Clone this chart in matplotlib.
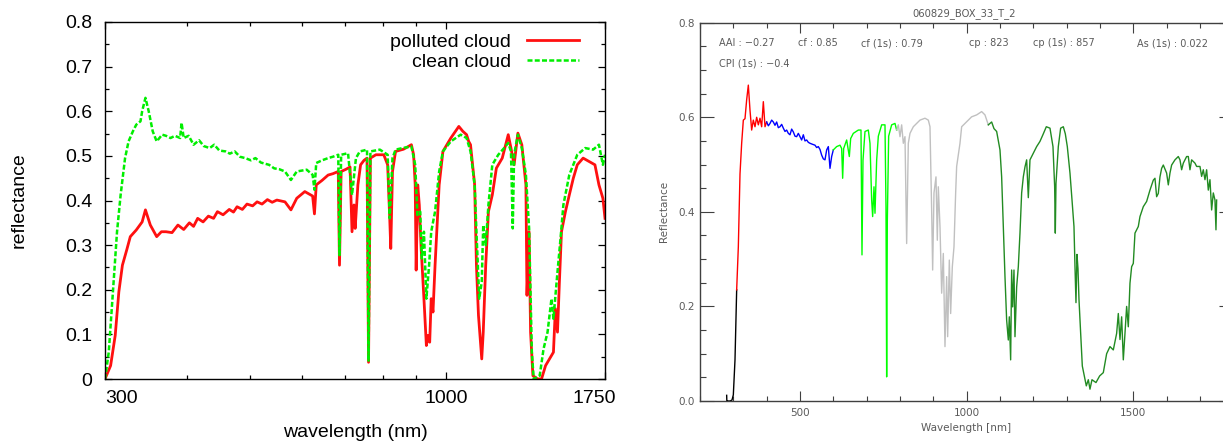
import matplotlib
matplotlib.use('Agg')
import matplotlib.pyplot as plt
from matplotlib.ticker import FixedLocator, NullFormatter, MultipleLocator
import matplotlib.transforms as mtransforms

# ---------------- Left panel data (wavelength nm, reflectance) ----------------
polluted_w = [300, 306, 311, 315, 319, 324, 328, 335, 342, 346, 352, 360, 366, 372, 380, 388, 396, 404, 410,
              416, 424, 432, 440, 446, 455, 465, 472, 478, 487, 495, 505, 513, 522, 532, 541, 550, 566, 578,
              590, 607, 624, 628, 632, 645, 659, 670, 683, 686, 690, 702, 712, 717, 722, 725, 732, 739, 748,
              756, 760, 765, 780, 802, 813, 819, 822, 827, 836, 860, 884, 891, 896, 899, 904, 909, 915, 924,
              932, 937, 943, 948, 954, 961, 975, 988, 1016, 1045, 1060, 1074, 1082, 1089, 1105, 1112, 1120,
              1128, 1133, 1139, 1149, 1160, 1176, 1193, 1218, 1244, 1256, 1270, 1287, 1305, 1324, 1329,
              1339, 1346, 1357, 1380, 1399, 1419, 1439, 1459, 1469, 1480, 1490, 1501, 1522, 1543, 1565,
              1587, 1620, 1654, 1689, 1713, 1737, 1750]
polluted_r = [0.0, 0.03, 0.0975, 0.195, 0.255, 0.29, 0.319, 0.334, 0.352, 0.379, 0.345, 0.319, 0.33, 0.33,
              0.328, 0.345, 0.335, 0.35, 0.342, 0.36, 0.352, 0.365, 0.36, 0.375, 0.368, 0.38, 0.374, 0.386,
              0.38, 0.392, 0.388, 0.397, 0.392, 0.402, 0.396, 0.401, 0.397, 0.379, 0.405, 0.42, 0.41, 0.37,
              0.435, 0.445, 0.457, 0.46, 0.465, 0.255, 0.465, 0.47, 0.475, 0.33, 0.39, 0.3375, 0.435, 0.48,
              0.49, 0.495, 0.0375, 0.495, 0.5025, 0.5025, 0.48, 0.36, 0.2925, 0.465, 0.51, 0.515, 0.525,
              0.5025, 0.435, 0.244, 0.435, 0.39, 0.2925, 0.18, 0.075, 0.0975, 0.0825, 0.18, 0.15, 0.255,
              0.435, 0.51, 0.54, 0.566, 0.555, 0.5475, 0.5325, 0.525, 0.435, 0.255, 0.1425, 0.0825, 0.045,
              0.105, 0.255, 0.375, 0.4125, 0.4725, 0.495, 0.5475, 0.5175, 0.48, 0.551, 0.525, 0.435, 0.1875,
              0.33, 0.105, 0.0075, 0.0, 0.0, 0.03, 0.045, 0.06, 0.1575, 0.105, 0.2175, 0.33, 0.375, 0.4125,
              0.45, 0.48, 0.495, 0.4875, 0.48, 0.435, 0.405, 0.36]

clean_w = [300, 304, 308, 313, 317, 322, 326, 331, 335, 340, 342, 346, 350, 355, 360, 367, 372, 378, 384,
           391, 393, 396, 403, 410, 418, 425, 434, 441, 449, 459, 466, 474, 483, 492, 502, 510, 520, 535,
           545, 555, 566, 578, 590, 611, 624, 628, 632, 645, 659, 670, 683, 686, 690, 707, 717, 727, 737,
           747, 756, 760, 765, 791, 813, 819, 827, 836, 860, 884, 896, 903, 912, 917, 924, 932, 941, 948,
           961, 975, 988, 1016, 1052, 1074, 1089, 1105, 1112, 1123, 1133, 1139, 1149, 1160, 1176, 1201,
           1226, 1244, 1256, 1264, 1270, 1287, 1305, 1324, 1339, 1352, 1361, 1390, 1409, 1429, 1449, 1459,
           1480, 1496, 1511, 1543, 1587, 1632, 1678, 1713, 1737, 1750]
clean_r = [0.0, 0.06, 0.18, 0.33, 0.4125, 0.495, 0.5325, 0.555, 0.57, 0.5775, 0.6, 0.63, 0.6, 0.555, 0.5325,
           0.5475, 0.545, 0.54, 0.545, 0.54, 0.574, 0.54, 0.545, 0.525, 0.535, 0.522, 0.5175, 0.525, 0.512,
           0.51, 0.505, 0.51, 0.498, 0.495, 0.49, 0.495, 0.485, 0.48, 0.472, 0.47, 0.465, 0.446, 0.465,
           0.469, 0.4575, 0.424, 0.484, 0.49, 0.495, 0.498, 0.5025, 0.2775, 0.5025, 0.506, 0.4125, 0.495,
           0.51, 0.512, 0.514, 0.041, 0.51, 0.514, 0.5025, 0.36, 0.495, 0.514, 0.518, 0.521, 0.48, 0.3675,
           0.375, 0.27, 0.33, 0.18, 0.255, 0.33, 0.375, 0.465, 0.51, 0.5325, 0.5475, 0.54, 0.51, 0.435, 0.33,
           0.18, 0.2175, 0.345, 0.3, 0.39, 0.48, 0.5025, 0.5175, 0.529, 0.51, 0.3375, 0.5025, 0.5475, 0.5175,
           0.4575, 0.3375, 0.06, 0.0, 0.0075, 0.0675, 0.105, 0.18, 0.135, 0.24, 0.315, 0.39, 0.4575, 0.5025,
           0.5175, 0.514, 0.525, 0.48, 0.5025]

left_xmajor = [300, 1000, 1750]
left_xmajor_labels = ['300', '1000', '1750']
left_xminor = [400, 500, 600, 700, 800, 900]
left_yticks = [0, 0.1, 0.2, 0.3, 0.4, 0.5, 0.6, 0.7, 0.8]
left_ylabels = ['0', '0.1', '0.2', '0.3', '0.4', '0.5', '0.6', '0.7', '0.8']

# ---------------- Right panel data (segments) ----------------
black_w = [280, 280.5, 282, 290, 296, 300, 305, 310]
black_r = [0.012, 0.0, 0.0, 0.0, 0.002, 0.013, 0.087, 0.235]

red_w = [310, 315, 320, 325, 330, 335, 340, 345, 350, 355, 360, 365, 370, 375, 380, 385, 390, 395, 400]
red_r = [0.235, 0.326, 0.48, 0.545, 0.594, 0.597, 0.637, 0.668, 0.615, 0.573, 0.594, 0.58, 0.60, 0.584,
         0.598, 0.58, 0.633, 0.58, 0.59]

blue_w = [400, 405, 410, 415, 420, 425, 430, 435, 440, 445, 450, 455, 460, 465, 470, 475, 480, 485, 490, 495,
          500, 505, 510, 515, 520, 525, 530, 537, 545, 550, 555, 560, 565, 570, 575, 580, 585, 590, 595, 600]
blue_r = [0.59, 0.582, 0.587, 0.594, 0.59, 0.583, 0.59, 0.578, 0.58, 0.585, 0.577, 0.57, 0.573, 0.566, 0.563,
          0.575, 0.569, 0.56, 0.559, 0.566, 0.559, 0.552, 0.563, 0.55, 0.552, 0.547, 0.545, 0.543, 0.541,
          0.536, 0.538, 0.532, 0.52, 0.512, 0.51, 0.531, 0.538, 0.492, 0.517, 0.531]

lime_w = [600, 610, 620, 625, 628, 631, 640, 648, 652, 660, 675, 683, 686, 689, 695, 705, 710, 715, 718, 722,
          725, 730, 735, 745, 755, 758, 760, 762, 766, 775, 785, 790]
lime_r = [0.531, 0.538, 0.541, 0.534, 0.471, 0.534, 0.552, 0.517, 0.555, 0.566, 0.573, 0.573, 0.309, 0.509,
          0.57, 0.573, 0.545, 0.425, 0.39, 0.453, 0.397, 0.509, 0.56, 0.584, 0.584, 0.411, 0.051, 0.38, 0.56,
          0.584, 0.587, 0.573]

gray_w = [790, 795, 800, 805, 810, 815, 820, 825, 830, 840, 850, 860, 875, 885, 890, 895, 898, 902, 908, 912,
          915, 920, 925, 930, 935, 940, 943, 948, 952, 957, 962, 967, 970, 980, 985, 995, 1005, 1015, 1030,
          1045, 1055, 1065]
gray_r = [0.573, 0.584, 0.559, 0.584, 0.545, 0.559, 0.333, 0.545, 0.566, 0.58, 0.587, 0.594, 0.598, 0.594,
          0.58, 0.404, 0.277, 0.44, 0.474, 0.34, 0.453, 0.369, 0.228, 0.312, 0.115, 0.263, 0.136, 0.298,
          0.185, 0.284, 0.326, 0.44, 0.496, 0.545, 0.58, 0.587, 0.594, 0.601, 0.605, 0.612, 0.605, 0.584]

dgreen_w = [1065, 1075, 1082, 1090, 1100, 1105, 1110, 1115, 1120, 1125, 1128, 1132, 1135, 1138, 1142, 1145,
            1150, 1155, 1160, 1165, 1170, 1175, 1180, 1185, 1190, 1200, 1210, 1220, 1230, 1239, 1250, 1259,
            1264, 1266, 1268, 1275, 1282, 1290, 1296, 1302, 1310, 1316, 1322, 1325, 1328, 1331, 1334, 1337,
            1342, 1347, 1353, 1359, 1365, 1370, 1376, 1388, 1399, 1410, 1420, 1430, 1440, 1450, 1455, 1460,
            1465, 1470, 1475, 1480, 1485, 1490, 1495, 1500, 1505, 1510, 1515, 1520, 1530, 1540, 1550, 1560,
            1565, 1570, 1575, 1580, 1585, 1590, 1600, 1605, 1610, 1615, 1625, 1635, 1640, 1645, 1650, 1660,
            1665, 1670, 1675, 1685, 1690, 1700, 1705, 1710, 1715, 1720, 1725, 1730, 1735, 1740, 1745, 1748,
            1750]
dgreen_r = [0.584, 0.59, 0.576, 0.57, 0.531, 0.474, 0.369, 0.263, 0.171, 0.129, 0.178, 0.087, 0.277, 0.199,
            0.277, 0.136, 0.241, 0.284, 0.355, 0.44, 0.474, 0.495, 0.51, 0.43, 0.51, 0.524, 0.538, 0.549,
            0.565, 0.58, 0.577, 0.538, 0.454, 0.355, 0.46, 0.538, 0.577, 0.58, 0.565, 0.538, 0.482, 0.426,
            0.369, 0.285, 0.208, 0.31, 0.28, 0.215, 0.144, 0.074, 0.053, 0.032, 0.045, 0.025, 0.045, 0.039,
            0.053, 0.06, 0.1, 0.115, 0.108, 0.143, 0.185, 0.13, 0.178, 0.087, 0.143, 0.2, 0.157, 0.249, 0.284,
            0.291, 0.355, 0.362, 0.369, 0.39, 0.411, 0.422, 0.446, 0.467, 0.471, 0.432, 0.439, 0.474, 0.492,
            0.499, 0.482, 0.457, 0.482, 0.499, 0.51, 0.517, 0.51, 0.489, 0.503, 0.517, 0.517, 0.489, 0.51,
            0.503, 0.496, 0.496, 0.475, 0.489, 0.468, 0.489, 0.446, 0.468, 0.404, 0.44, 0.425, 0.362, 0.425]

right_title = '060829_BOX_33_T_2'
info_line1 = ['AAI : \u22120.27', 'cf : 0.85', 'cf (1s) : 0.79', 'cp : 823', 'cp (1s) : 857', 'As (1s) : 0.022']
info_line2 = ['CPI (1s) : \u22120.4']

# ---------------- Figure ----------------
W, H = 1223, 442
fig = plt.figure(figsize=(W / 100, H / 100), dpi=100)

LF = 'Liberation Sans'
LFS = 14

ax1 = fig.add_axes([105 / W, (H - 379) / H, 500 / W, 357 / H])
ax1.plot(polluted_w, polluted_r, color='#ff1010', lw=2.0, label='polluted cloud')
ax1.plot(clean_w, clean_r, color='#00ee00', lw=1.8, dashes=(2.0, 0.9), label='clean cloud')
ax1.set_xscale('log')
ax1.set_xlim(300, 1750)
ax1.set_ylim(0, 0.8)
ax1.xaxis.set_major_locator(FixedLocator(left_xmajor))
ax1.xaxis.set_minor_locator(FixedLocator(left_xminor))
ax1.xaxis.set_minor_formatter(NullFormatter())
ax1.set_xticklabels(left_xmajor_labels, fontfamily=LF, fontsize=LFS)
ax1.set_yticks(left_yticks)
ax1.set_yticklabels(left_ylabels, fontfamily=LF, fontsize=LFS)
ax1.yaxis.set_minor_locator(MultipleLocator(0.05))
ax1.tick_params(which='both', direction='in', top=True, right=True, color='black', width=0.9)
ax1.tick_params(which='major', length=5)
ax1.tick_params(which='minor', length=3)
ax1.tick_params(axis='y', which='major', pad=9)
ax1.tick_params(axis='x', which='major', pad=8)
for s in ax1.spines.values():
    s.set_linewidth(1.0)
    s.set_color('black')
xt = ax1.xaxis.get_major_ticks()
xt[0].label1.set_horizontalalignment('left')
xt[2].label1.set_transform(xt[2].label1.get_transform() +
                           mtransforms.ScaledTranslation(-11 / 100, 0, fig.dpi_scale_trans))
ax1.text(-0.172, 0.5, 'reflectance', transform=ax1.transAxes, rotation=90, ha='center', va='center',
         fontfamily=LF, fontsize=LFS)
ax1.text(0.5, (379 - 437) / 357, 'wavelength (nm)', transform=ax1.transAxes, ha='center', va='baseline',
         fontfamily=LF, fontsize=LFS)
leg = ax1.legend(loc='upper right', bbox_to_anchor=((579 - 105) / 500, (379 - 33) / 357),
                 frameon=False, markerfirst=False, prop={'family': LF, 'size': LFS},
                 handlelength=2.7, handletextpad=0.8, labelspacing=0.15, borderpad=0, borderaxespad=0)

# ---------------- Right panel ----------------
RC = '#5a5a5a'
RF = 'DejaVu Sans'
ax2 = fig.add_axes([700 / W, (H - 401) / H, 533.3 / W, 378.3 / H])
ax2.plot(black_w, black_r, color='black', lw=1.0)
ax2.plot(red_w, red_r, color='#ff0000', lw=1.0)
ax2.plot(blue_w, blue_r, color='#0000ff', lw=1.0)
ax2.plot(lime_w, lime_r, color='#00ff00', lw=1.0)
ax2.plot(gray_w, gray_r, color='#c0c0c0', lw=1.0)
ax2.plot(dgreen_w, dgreen_r, color='#228b22', lw=1.0)
ax2.set_xlim(200, 1800)
ax2.set_ylim(0, 0.8)
ax2.xaxis.set_minor_locator(MultipleLocator(100))
ax2.yaxis.set_minor_locator(MultipleLocator(0.05))
ax2.set_xticks([500, 1000, 1500])
ax2.set_xticklabels(['500', '1000', '1500'])
ax2.set_yticks([0, 0.2, 0.4, 0.6, 0.8])
ax2.set_yticklabels(['0.0', '0.2', '0.4', '0.6', '0.8'])
ax2.tick_params(which='both', direction='in', top=True, right=True, color='#404040', width=0.8,
                labelcolor=RC, labelsize=7.5)
ax2.tick_params(axis='y', which='major', length=10, pad=4)
ax2.tick_params(axis='y', which='minor', length=4)
ax2.tick_params(axis='x', which='major', length=7, pad=5)
ax2.tick_params(axis='x', which='minor', length=3.5)
for lab in ax2.get_xticklabels() + ax2.get_yticklabels():
    lab.set_fontfamily(RF)
for s in ax2.spines.values():
    s.set_linewidth(1.0)
    s.set_color('#404040')
ax2.text((964 - 700) / 533.3, (401 - 13.6) / 378.3, right_title, transform=ax2.transAxes, ha='center',
         va='center', color=RC, fontsize=7.2, fontfamily=RF)
info_x1 = [719, 798, 861, 969, 1033, 1137]
for t, px in zip(info_line1, info_x1):
    ax2.text((px - 700) / 533.3, (401 - 43.3) / 378.3, t, transform=ax2.transAxes, ha='left', va='center',
             color=RC, fontsize=7, fontfamily=RF)
for t in info_line2:
    ax2.text((719 - 700) / 533.3, (401 - 63.3) / 378.3, t, transform=ax2.transAxes, ha='left', va='center',
             color=RC, fontsize=7, fontfamily=RF)
ax2.text((966 - 700) / 533.3, (401 - 428) / 378.3, 'Wavelength [nm]', transform=ax2.transAxes, ha='center',
         va='center', color=RC, fontsize=7.5, fontfamily=RF)
ax2.text((664 - 700) / 533.3, 0.5, 'Reflectance', transform=ax2.transAxes, rotation=90, ha='center',
         va='center', color=RC, fontsize=7.5, fontfamily=RF)

fig.savefig('out.png', dpi=100)
